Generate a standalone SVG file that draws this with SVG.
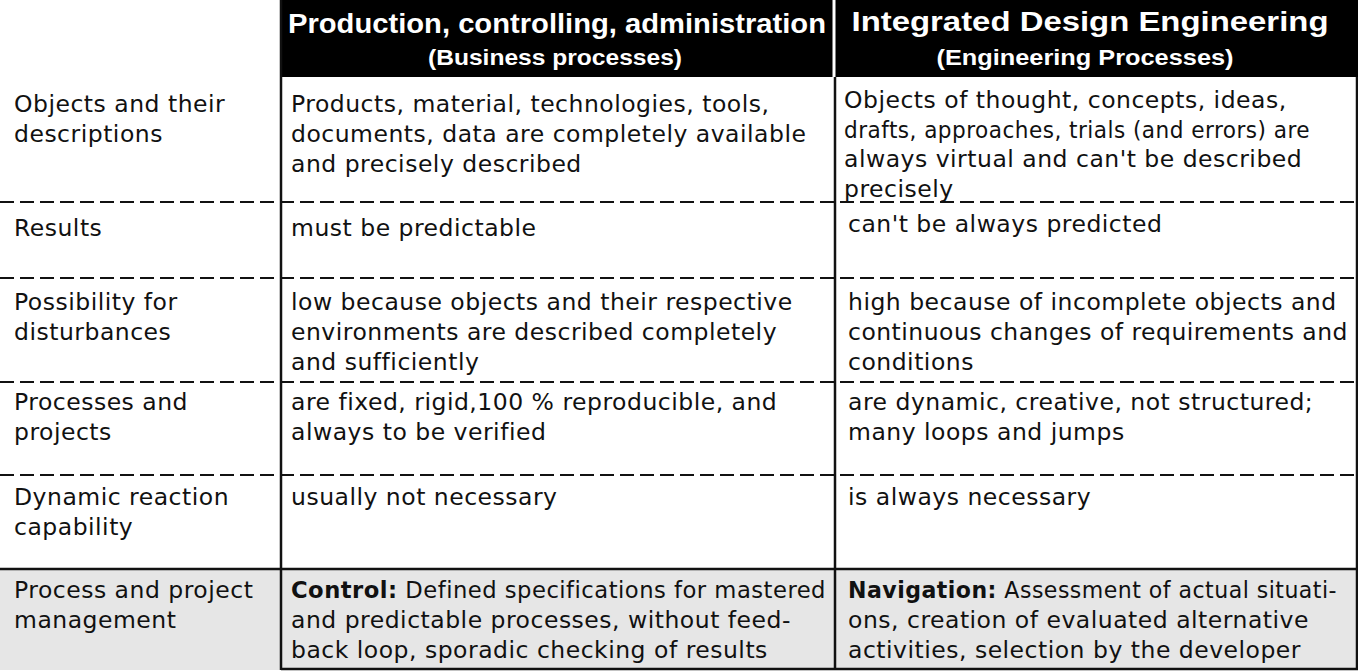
<svg xmlns="http://www.w3.org/2000/svg" width="1358" height="671" viewBox="0 0 1358 671">
<style>
text{font-family:"DejaVu Sans","Liberation Sans",sans-serif;font-size:23.5px;letter-spacing:0.5px;fill:#111}
.h{font-family:"Liberation Sans",sans-serif;font-weight:bold;fill:#fff;text-anchor:middle;letter-spacing:0}
.h1{font-size:27px}.h2{font-size:22px}
.d{stroke:#111;stroke-width:2;stroke-dasharray:14,6}
.s{stroke:#111;stroke-width:2.5}
</style>
<rect width="1358" height="671" fill="#fff"/>
<rect x="0" y="570" width="1358" height="100" fill="#e6e6e6"/>
<g id="header">
<rect x="281" y="0" width="1077" height="77" fill="#000"/>
<line x1="834" y1="0" x2="834" y2="77" stroke="#fff" stroke-width="3"/>
<text class="h h1" x="557" y="33" textLength="538" lengthAdjust="spacingAndGlyphs">Production, controlling, administration</text>
<text class="h h2" x="555" y="65" textLength="254" lengthAdjust="spacingAndGlyphs">(Business processes)</text>
<text class="h h1" x="1090" y="31" textLength="477" lengthAdjust="spacingAndGlyphs">Integrated Design Engineering</text>
<text class="h h2" x="1085" y="65" textLength="297" lengthAdjust="spacingAndGlyphs">(Engineering Processes)</text>
</g>
<g id="grid">
<line class="s" x1="281" y1="0" x2="281" y2="670"/>
<line class="s" x1="835" y1="77" x2="835" y2="670"/>
<line class="d" x1="0" y1="202" x2="1358" y2="202"/>
<line class="d" x1="0" y1="278" x2="1358" y2="278"/>
<line class="d" x1="0" y1="382" x2="1358" y2="382"/>
<line class="d" x1="0" y1="475" x2="1358" y2="475"/>
<line class="s" x1="0" y1="569" x2="1358" y2="569"/>
<line class="s" x1="281" y1="669" x2="1358" y2="669"/>
<line class="s" x1="1357" y1="77" x2="1357" y2="670"/>
</g>
<g id="row1">
<text x="14" y="112">Objects and their</text><text x="14" y="142">descriptions</text>
<text x="291" y="112">Products, material, technologies, tools,</text>
<text x="291" y="142">documents, data are completely available</text>
<text x="291" y="172">and precisely described</text>
<text x="844" y="108">Objects of thought, concepts, ideas,</text>
<text x="844" y="138" textLength="466" lengthAdjust="spacingAndGlyphs">drafts, approaches, trials (and errors) are</text>
<text x="844" y="167">always  virtual and can't be described</text>
<text x="844" y="197">precisely</text>
</g>
<g id="row2">
<text x="14" y="236">Results</text>
<text x="291" y="236">must be predictable</text>
<text x="848" y="232">can't be always predicted</text>
</g>
<g id="row3">
<text x="14" y="310">Possibility for</text><text x="14" y="340">disturbances</text>
<text x="291" y="310">low because objects and their respective</text>
<text x="291" y="340">environments are described completely</text>
<text x="291" y="370">and sufficiently</text>
<text x="848" y="310">high because of incomplete objects and</text>
<text x="848" y="340" textLength="500" lengthAdjust="spacingAndGlyphs">continuous changes of requirements and</text>
<text x="848" y="370">conditions</text>
</g>
<g id="row4">
<text x="14" y="410">Processes and</text><text x="14" y="440">projects</text>
<text x="291" y="410">are fixed, rigid,100 %  reproducible, and</text>
<text x="291" y="440">always to be verified</text>
<text x="848" y="410">are dynamic, creative, not structured;</text>
<text x="848" y="440">many loops and jumps</text>
</g>
<g id="row5">
<text x="14" y="505">Dynamic reaction</text><text x="14" y="535">capability</text>
<text x="291" y="505">usually not necessary</text>
<text x="848" y="505">is always necessary</text>
</g>
<g id="row6">
<text x="14" y="598">Process and project</text><text x="14" y="628">management</text>
<text x="291" y="598" textLength="535" lengthAdjust="spacingAndGlyphs"><tspan font-weight="bold">Control:</tspan> Defined specifications for mastered</text>
<text x="291" y="628">and predictable processes, without feed-</text>
<text x="291" y="658">back loop, sporadic checking of results</text>
<text x="848" y="598" textLength="489" lengthAdjust="spacingAndGlyphs"><tspan font-weight="bold">Navigation:</tspan> Assessment of actual situati-</text>
<text x="848" y="628">ons, creation of evaluated alternative</text>
<text x="848" y="658">activities, selection by the developer</text>
</g>
</svg>
